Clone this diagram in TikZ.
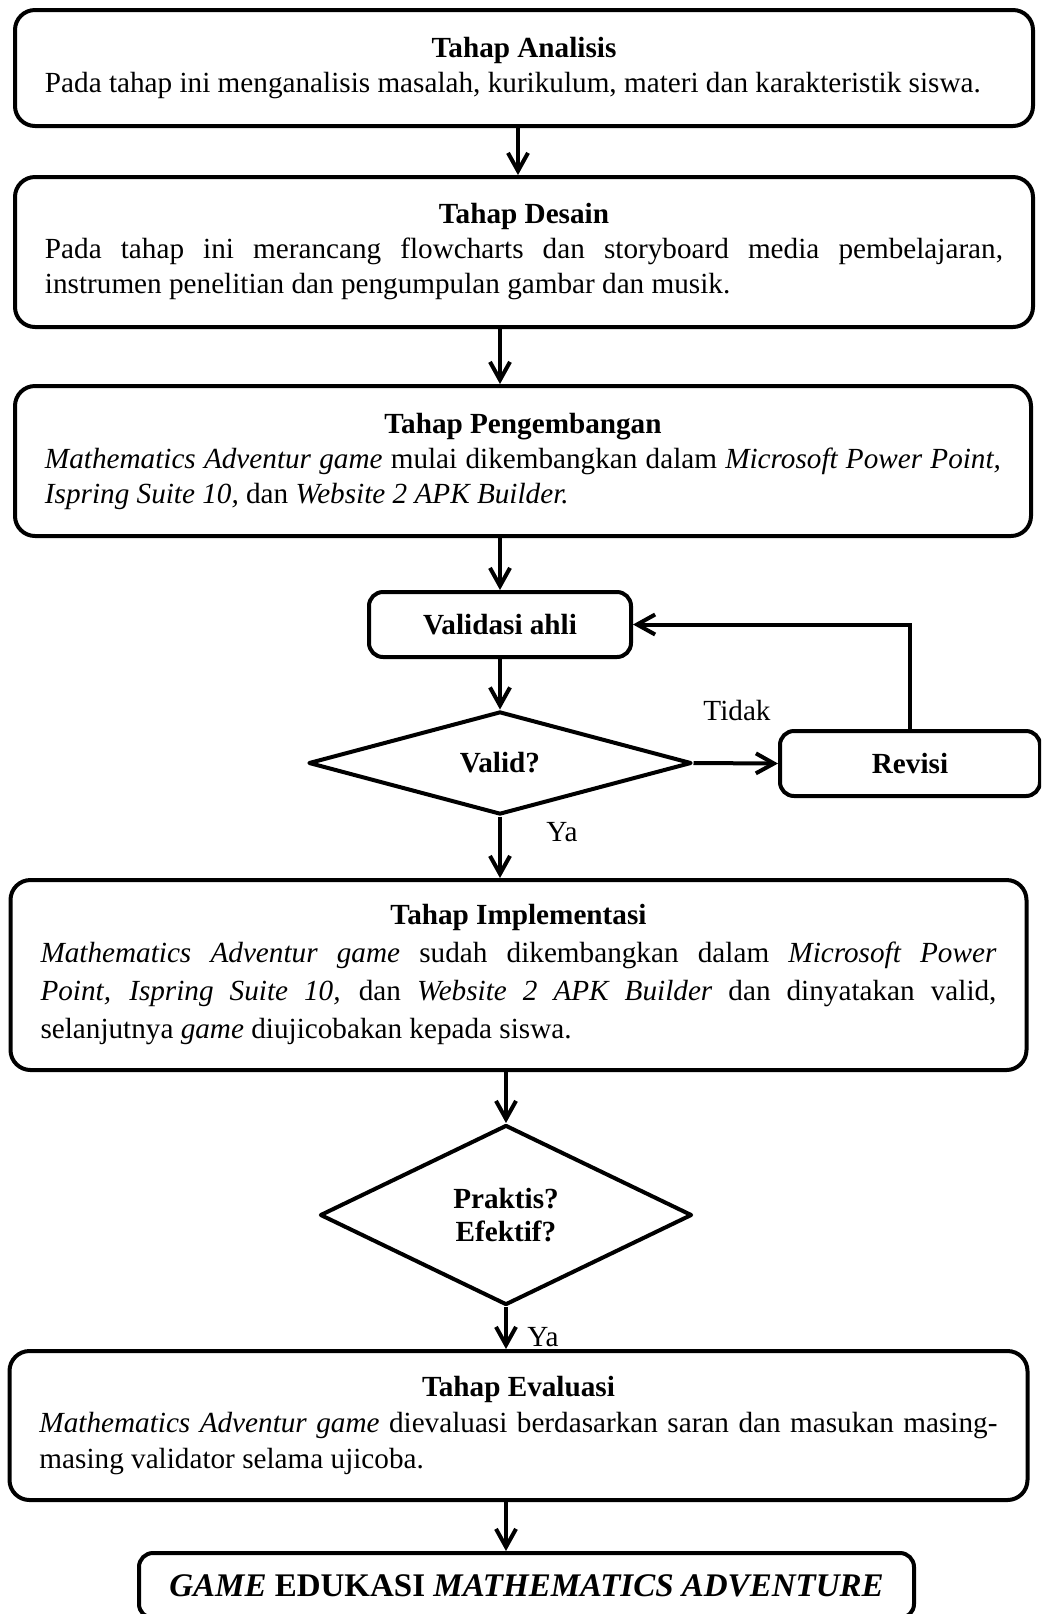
\documentclass[tikz,border=0pt]{standalone}
\usepackage{fontspec}
\setmainfont{Liberation Serif}
\usetikzlibrary{arrows.meta,shapes.geometric}

\tikzset{
  stage/.style={draw, line width=2pt, rounded corners=10pt, align=justify,
    inner xsep=15pt, inner ysep=0pt, font=\fontsize{14.6}{17.5}\selectfont},
  step box/.style={draw, line width=2pt, rounded corners=7pt, inner sep=0pt,
    font=\fontsize{14.6}{17.5}\selectfont\bfseries},
  decision/.style={draw, diamond, line width=2pt, line join=round, inner sep=0pt,
    align=center, font=\fontsize{14.6}{16.5}\selectfont\bfseries},
  arr/.style={line width=2pt, -{Straight Barb[length=9pt,width=10pt,line width=2pt]}},
  lbl/.style={inner sep=0pt, font=\fontsize{14.6}{17.5}\selectfont}
}

\begin{document}
\begin{tikzpicture}[x=0.5pt, y=-0.5pt]
  \useasboundingbox (0,0) rectangle (1041,1614);
  \clip (0,0) rectangle (1041,1614);

  % tahap-tahap
  \node[stage, text width=479pt, minimum height=58pt] (ana) at (524,68)
    {{\centering\bfseries Tahap Analisis\par}
     Pada tahap ini menganalisis masalah, kurikulum, materi dan karakteristik siswa.};
  \node[stage, text width=479pt, minimum height=75pt] (des) at (524,252)
    {{\centering\bfseries Tahap Desain\par}
     Pada tahap ini merancang flowcharts dan storyboard media pembelajaran,\linebreak
     instrumen penelitian dan pengumpulan gambar dan musik.};
  \node[stage, text width=478pt, minimum height=75pt] (pgb) at (523,461)
    {{\centering\bfseries Tahap Pengembangan\par}
     \textit{Mathematics Adventur game} mulai dikembangkan dalam \textit{Microsoft Power Point,}\linebreak
     \textit{Ispring Suite 10,} dan \textit{Website 2 APK Builder.}};

  % validasi
  \node[step box, minimum width=131pt, minimum height=32.5pt] (val) at (500,624.5) {Validasi ahli};
  \node[decision, minimum width=191.5pt, minimum height=51.5pt] (vld) at (500,763) {Valid?};
  \node[step box, minimum width=130pt, minimum height=32.5pt] (rev) at (910,763.5) {Revisi};
  \node[lbl] (tdk) at (737,710) {Tidak};
  \node[lbl] (ya1) at (562,832) {Ya};

  \node[stage, text width=478pt, minimum height=95pt,
        font=\fontsize{14.6}{19}\selectfont] (imp) at (518.5,975)
    {{\centering\bfseries Tahap Implementasi\par}
     \textit{Mathematics Adventur game} sudah dikembangkan dalam \textit{Microsoft Power}\linebreak
     \textit{Point, Ispring Suite 10,} dan \textit{Website 2 APK Builder} dan dinyatakan valid,\linebreak
     selanjutnya \textit{game} diujicobakan kepada siswa.};

  \node[decision, minimum width=186pt, minimum height=90pt] (prk) at (506,1215) {Praktis?\\Efektif?};
  \node[lbl] (ya2) at (543,1337) {Ya};

  \node[stage, text width=479pt, minimum height=74.5pt,
        font=\fontsize{14.6}{18}\selectfont] (eva) at (518.5,1425.5)
    {{\centering\bfseries Tahap Evaluasi\par}
     \textit{Mathematics Adventur game} dievaluasi berdasarkan saran dan masukan masing-\linebreak
     masing validator selama ujicoba.};

  \node[step box, minimum width=387.5pt, minimum height=32.5pt,
        font=\fontsize{16.5}{19}\selectfont\bfseries] (gme) at (526.5,1585.5)
    {\textit{GAME} EDUKASI \textit{MATHEMATICS ADVENTURE}};

  % panah
  \draw[arr] ([xshift=-3pt]ana.south) -- ([xshift=-3pt]des.north);
  \draw[arr] (des.south -| val.north) -- (pgb.north -| val.north);
  \draw[arr] (pgb.south -| val.north) -- (val.north);
  \draw[arr] (val.south) -- (vld.north);
  \draw[arr] (vld.east) -- (rev.west);
  \draw[arr] (rev.north) |- (val.east);
  \draw[arr] (vld.south) -- (imp.north -| vld.south);
  \draw[arr] (imp.south -| prk.north) -- (prk.north);
  \draw[arr] (prk.south) -- (eva.north -| prk.south);
  \draw[arr] (eva.south -| prk.south) -- (gme.north -| prk.south);
\end{tikzpicture}
\end{document}
